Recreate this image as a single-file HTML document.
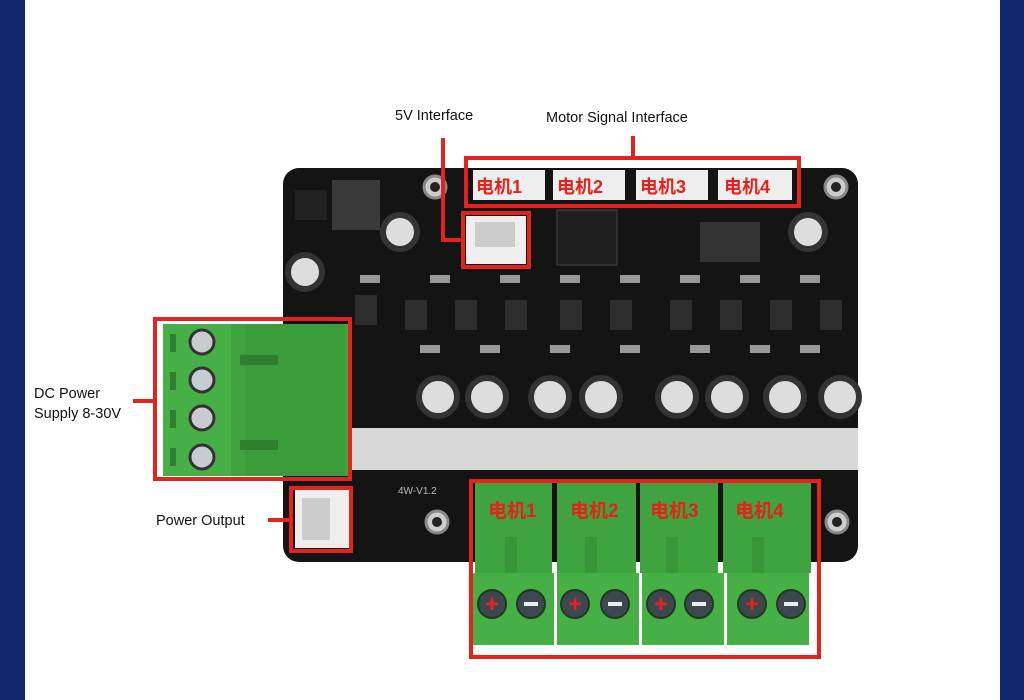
<!DOCTYPE html><html><head><meta charset="utf-8"><style>body{margin:0;width:1024px;height:700px;overflow:hidden;background:#fff}svg{display:block}</style></head><body>
<svg width="1024" height="700" viewBox="0 0 1024 700" font-family="Liberation Sans, Noto Sans CJK SC, sans-serif">
<rect width="1024" height="700" fill="#fff"/>
<rect x="0" y="0" width="25" height="700" fill="#13276e"/>
<rect x="1000" y="0" width="24" height="700" fill="#13276e"/>
<!-- board -->
<rect x="283" y="168" width="575" height="394" rx="16" fill="#141414"/>
<rect x="350" y="428" width="508" height="42" fill="#d8d8d8"/>
<!-- mounting holes -->
<g fill="#ccc" stroke="#888" stroke-width="3"><circle cx="435" cy="187" r="11"/><circle cx="836" cy="187" r="11"/><circle cx="437" cy="522" r="11"/><circle cx="837" cy="522" r="11"/></g>
<g fill="#222"><circle cx="435" cy="187" r="5"/><circle cx="836" cy="187" r="5"/><circle cx="437" cy="522" r="5"/><circle cx="837" cy="522" r="5"/></g>
<!-- inductors & chips -->
<rect x="332" y="180" width="48" height="50" fill="#3a3a3a"/><rect x="700" y="222" width="60" height="40" fill="#333"/>
<rect x="557" y="210" width="60" height="55" fill="#1e1e1e" stroke="#444"/>
<rect x="295" y="190" width="32" height="30" fill="#222"/>
<!-- caps -->
<g fill="#ddd" stroke="#333" stroke-width="6">
<circle cx="305" cy="272" r="17"/><circle cx="400" cy="232" r="17"/><circle cx="808" cy="232" r="17"/>
<circle cx="438" cy="397" r="19"/><circle cx="487" cy="397" r="19"/><circle cx="550" cy="397" r="19"/><circle cx="601" cy="397" r="19"/><circle cx="677" cy="397" r="19"/><circle cx="727" cy="397" r="19"/><circle cx="785" cy="397" r="19"/><circle cx="840" cy="397" r="19"/></g>
<!-- small parts -->
<g fill="#2d2d2d">
<rect x="355" y="295" width="22" height="30"/><rect x="405" y="300" width="22" height="30"/><rect x="455" y="300" width="22" height="30"/><rect x="505" y="300" width="22" height="30"/><rect x="560" y="300" width="22" height="30"/><rect x="610" y="300" width="22" height="30"/><rect x="670" y="300" width="22" height="30"/><rect x="720" y="300" width="22" height="30"/><rect x="770" y="300" width="22" height="30"/><rect x="820" y="300" width="22" height="30"/>
</g>
<g fill="#999"><rect x="360" y="275" width="20" height="8"/><rect x="430" y="275" width="20" height="8"/><rect x="500" y="275" width="20" height="8"/><rect x="560" y="275" width="20" height="8"/><rect x="620" y="275" width="20" height="8"/><rect x="680" y="275" width="20" height="8"/><rect x="740" y="275" width="20" height="8"/><rect x="800" y="275" width="20" height="8"/>
<rect x="420" y="345" width="20" height="8"/><rect x="480" y="345" width="20" height="8"/><rect x="550" y="345" width="20" height="8"/><rect x="620" y="345" width="20" height="8"/><rect x="690" y="345" width="20" height="8"/><rect x="750" y="345" width="20" height="8"/><rect x="800" y="345" width="20" height="8"/></g>
<text x="398" y="494" fill="#bbb" font-size="10">4W-V1.2</text>
<!-- top connectors -->
<g fill="#eee"><rect x="473" y="170" width="72" height="30"/><rect x="553" y="170" width="72" height="30"/><rect x="636" y="170" width="72" height="30"/><rect x="718" y="170" width="74" height="30"/></g>
<g fill="#e3231c" font-size="18" font-weight="bold"><text x="476" y="193">电机1</text><text x="557" y="193">电机2</text><text x="640" y="193">电机3</text><text x="724" y="193">电机4</text></g>
<rect x="466" y="216" width="60" height="48" fill="#eee"/><rect x="475" y="222" width="40" height="25" fill="#ccc"/>
<!-- left terminal -->
<rect x="163" y="324" width="185" height="152" fill="#3fa43f"/>
<rect x="163" y="324" width="68" height="152" fill="#46b046"/>
<rect x="245" y="324" width="100" height="152" fill="#3a9c3a"/>
<g fill="#2f7f2f"><rect x="240" y="355" width="38" height="10"/><rect x="240" y="440" width="38" height="10"/><rect x="170" y="334" width="6" height="18"/><rect x="170" y="372" width="6" height="18"/><rect x="170" y="410" width="6" height="18"/><rect x="170" y="448" width="6" height="18"/></g>
<g fill="#c8ccd0" stroke="#333" stroke-width="3"><circle cx="202" cy="342" r="12"/><circle cx="202" cy="380" r="12"/><circle cx="202" cy="418" r="12"/><circle cx="202" cy="457" r="12"/></g>
<!-- power output -->
<rect x="295" y="490" width="55" height="58" fill="#eee"/><rect x="302" y="498" width="28" height="42" fill="#ccc"/>
<!-- bottom terminals -->
<g>
<rect x="475" y="483" width="77" height="90" fill="#3fa43f"/><rect x="472" y="573" width="82" height="72" fill="#46b046"/>
<rect x="557" y="483" width="79" height="90" fill="#3fa43f"/><rect x="557" y="573" width="82" height="72" fill="#46b046"/>
<rect x="640" y="483" width="78" height="90" fill="#3fa43f"/><rect x="642" y="573" width="82" height="72" fill="#46b046"/>
<rect x="723" y="483" width="88" height="90" fill="#3fa43f"/><rect x="727" y="573" width="82" height="72" fill="#46b046"/>
</g>
<g fill="#389638"><rect x="505" y="537" width="12" height="36"/><rect x="585" y="537" width="12" height="36"/><rect x="666" y="537" width="12" height="36"/><rect x="752" y="537" width="12" height="36"/></g>
<g fill="#3d4750" stroke="#1f3a1f" stroke-width="2">
<circle cx="492" cy="604" r="14"/><circle cx="531" cy="604" r="14"/><circle cx="575" cy="604" r="14"/><circle cx="615" cy="604" r="14"/><circle cx="661" cy="604" r="14"/><circle cx="699" cy="604" r="14"/><circle cx="752" cy="604" r="14"/><circle cx="791" cy="604" r="14"/></g>
<g fill="#e3231c" font-size="24" font-weight="bold" text-anchor="middle"><text x="492" y="612">+</text><text x="575" y="612">+</text><text x="661" y="612">+</text><text x="752" y="612">+</text></g>
<g fill="#eee"><rect x="524" y="602" width="14" height="4"/><rect x="608" y="602" width="14" height="4"/><rect x="692" y="602" width="14" height="4"/><rect x="784" y="602" width="14" height="4"/></g>
<g fill="#e3231c" font-size="19" font-weight="bold"><text x="488" y="517">电机1</text><text x="570" y="517">电机2</text><text x="650" y="517">电机3</text><text x="735" y="517">电机4</text></g>
<!-- red boxes & lines -->
<g fill="none" stroke="#e3231c" stroke-width="4">
<rect x="466" y="158" width="333" height="48"/>
<rect x="463" y="213" width="66" height="54"/>
<rect x="155" y="319" width="195" height="160"/>
<rect x="291" y="488" width="60" height="63"/>
<rect x="471" y="481" width="348" height="176"/>
<polyline points="443,138 443,240 463,240"/>
<line x1="633" y1="136" x2="633" y2="158"/>
<line x1="133" y1="401" x2="155" y2="401"/>
<line x1="268" y1="520" x2="291" y2="520"/>
</g>
<g fill="#111" font-size="14.5">
<text x="395" y="120">5V Interface</text>
<text x="546" y="122">Motor Signal Interface</text>
<text x="34" y="398">DC Power</text><text x="34" y="418">Supply 8-30V</text>
<text x="156" y="525">Power Output</text>
</g>
</svg></body></html>
